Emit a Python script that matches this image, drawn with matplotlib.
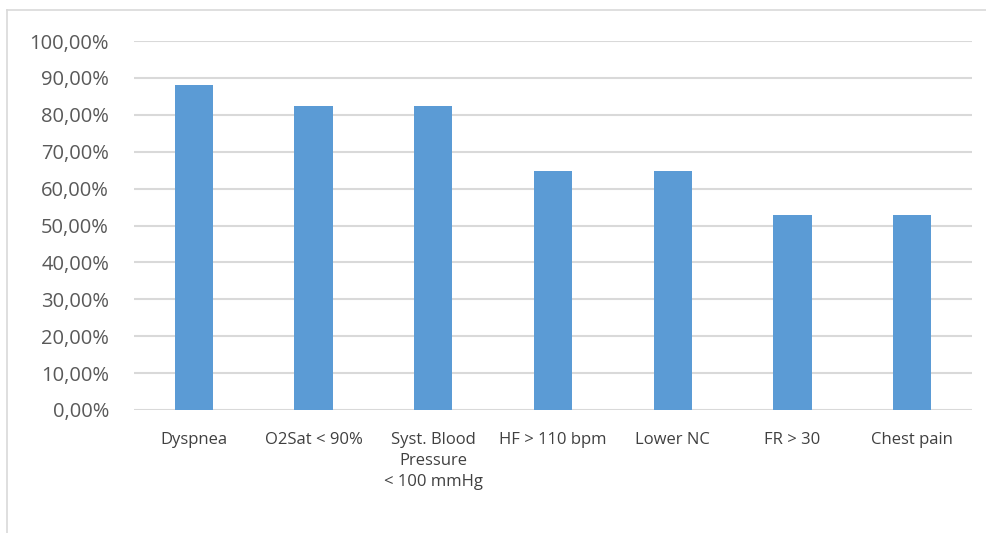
import matplotlib.pyplot as plt
from matplotlib.lines import Line2D
from matplotlib.ticker import FuncFormatter

categories = ["Dyspnea", "O2Sat < 90%", "Syst. Blood\nPressure\n< 100 mmHg",
              "HF > 110 bpm", "Lower NC", "FR > 30", "Chest pain"]
values = [0.882, 0.824, 0.824, 0.647, 0.647, 0.529, 0.529]

plt.rcParams['font.family'] = ['Open Sans', 'DejaVu Sans']

fig = plt.figure(figsize=(9.87, 5.33), dpi=100)
ax = fig.add_axes([0.1358, 0.2308, 0.849, 0.6922])

x = range(len(categories))
ax.bar(x, values, width=0.32, color='#5b9bd5', zorder=3)

ax.set_xlim(-0.5, len(categories) - 0.5)
ax.set_ylim(0, 1.0)
ax.set_yticks([i / 10 for i in range(11)])
ax.yaxis.set_major_formatter(FuncFormatter(lambda v, _: f"{v * 100:.2f}%".replace('.', ',')))
ax.grid(axis='y', color='#d9d9d9', linewidth=1.5, zorder=0)
ax.set_xticks(list(x))
ax.set_xticklabels(categories, fontsize=12, color='#404040', linespacing=1.4)
ax.tick_params(axis='y', labelsize=14.5, labelcolor='#595959', length=0, pad=18)
ax.tick_params(axis='x', length=0, pad=16)
for s in ax.spines.values():
    s.set_visible(False)

# chart frame
fig.add_artist(Line2D([7 / 987, 7 / 987], [0, 1 - 10 / 533], color='#d9d9d9', lw=1.2,
                      transform=fig.transFigure))
fig.add_artist(Line2D([7 / 987, 1], [1 - 10 / 533, 1 - 10 / 533], color='#d9d9d9', lw=1.2,
                      transform=fig.transFigure))

fig.savefig("out.png", dpi=100)
